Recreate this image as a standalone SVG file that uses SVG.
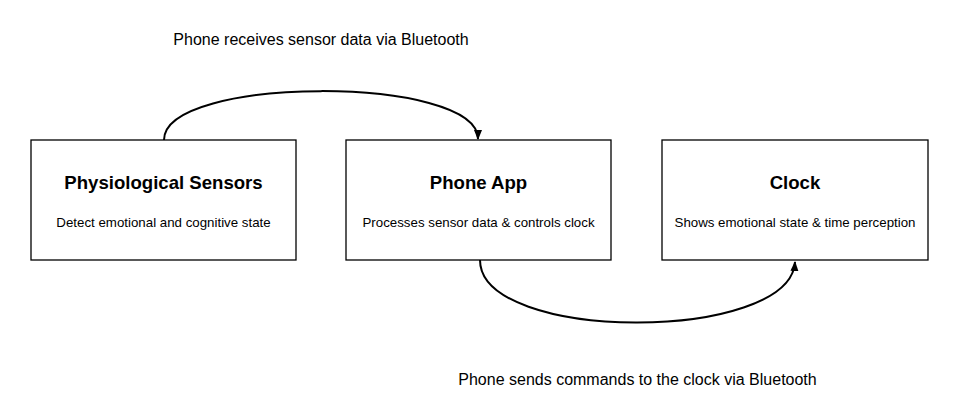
<svg xmlns="http://www.w3.org/2000/svg" width="956" height="420" viewBox="0 0 956 420">
<style>
.box{fill:#fff;stroke:#000;stroke-width:1.3}
.t{font-family:"Liberation Sans",Arial,sans-serif;font-weight:bold;font-size:18.6px;text-anchor:middle;fill:#000}
.s{font-family:"Liberation Sans",Arial,sans-serif;font-size:13.3px;text-anchor:middle;fill:#000}
.l{font-family:"Liberation Sans",Arial,sans-serif;font-size:16px;text-anchor:middle;fill:#000}
.c{fill:none;stroke:#000;stroke-width:2}
</style>
<defs>
<marker id="ah" viewBox="0 0 10 10" refX="9" refY="5" markerWidth="10" markerHeight="10" markerUnits="userSpaceOnUse" orient="auto">
<path d="M0,1 L10,5 L0,9 Z" fill="#000"/>
</marker>
</defs>
<rect width="956" height="420" fill="#fff"/>
<g id="connectors">
<path class="c" d="M164,140 C164,75 478,75 478,139" marker-end="url(#ah)"/>
<path class="c" d="M480,260 C480,343 790,343 795,262" marker-end="url(#ah)"/>
<text class="l" x="321" y="45">Phone receives sensor data via Bluetooth</text>
<text class="l" x="637.5" y="385">Phone sends commands to the clock via Bluetooth</text>
</g>
<g id="sensors">
<rect class="box" x="31" y="140" width="265" height="120"/>
<text class="t" x="163.5" y="189">Physiological Sensors</text>
<text class="s" x="163.5" y="227">Detect emotional and cognitive state</text>
</g>
<g id="phone">
<rect class="box" x="346" y="140" width="265" height="120"/>
<text class="t" x="478.5" y="189">Phone App</text>
<text class="s" x="478.5" y="227">Processes sensor data &amp; controls clock</text>
</g>
<g id="clock">
<rect class="box" x="662" y="140" width="266" height="120"/>
<text class="t" x="795" y="189">Clock</text>
<text class="s" x="795" y="227">Shows emotional state &amp; time perception</text>
</g>
</svg>
